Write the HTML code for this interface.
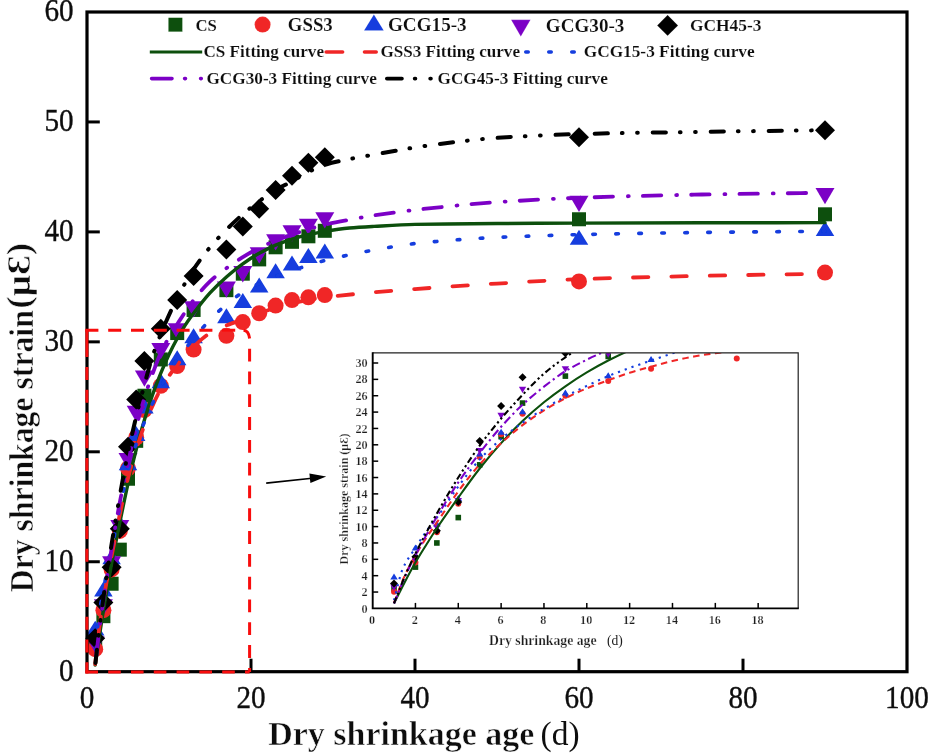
<!DOCTYPE html>
<html><head><meta charset="utf-8"><title>Dry shrinkage strain</title>
<style>
html,body{margin:0;padding:0;background:#fff;}
body{width:928px;height:756px;overflow:hidden;font-family:"Liberation Serif",serif;}
svg{display:block;}
</style></head><body>
<svg width="928" height="756" viewBox="0 0 928 756">
<rect width="928" height="756" fill="#fff"/>
<filter id="soft" x="0" y="0" width="100%" height="100%" filterUnits="userSpaceOnUse" primitiveUnits="userSpaceOnUse"><feGaussianBlur stdDeviation="0.45"/></filter>
<g filter="url(#soft)">
<rect width="928" height="756" fill="#fff"/>
<defs><clipPath id="mc"><rect x="87.0" y="12.0" width="820.0" height="659.7"/></clipPath><clipPath id="ic"><rect x="372.7" y="352.9" width="425.5" height="255.5"/></clipPath></defs>
<g id="main-markers">
<rect x="88.20" y="638.31" width="14.00" height="14.00" fill="#0a500a"/>
<rect x="96.40" y="609.18" width="14.00" height="14.00" fill="#0a500a"/>
<rect x="104.60" y="576.74" width="14.00" height="14.00" fill="#0a500a"/>
<rect x="112.80" y="542.66" width="14.00" height="14.00" fill="#0a500a"/>
<rect x="121.00" y="471.74" width="14.00" height="14.00" fill="#0a500a"/>
<rect x="129.20" y="433.81" width="14.00" height="14.00" fill="#0a500a"/>
<rect x="137.40" y="388.73" width="14.00" height="14.00" fill="#0a500a"/>
<rect x="153.80" y="352.44" width="14.00" height="14.00" fill="#0a500a"/>
<rect x="170.20" y="326.05" width="14.00" height="14.00" fill="#0a500a"/>
<rect x="186.60" y="302.96" width="14.00" height="14.00" fill="#0a500a"/>
<rect x="219.40" y="283.17" width="14.00" height="14.00" fill="#0a500a"/>
<rect x="235.80" y="266.68" width="14.00" height="14.00" fill="#0a500a"/>
<rect x="252.20" y="252.39" width="14.00" height="14.00" fill="#0a500a"/>
<rect x="268.60" y="240.29" width="14.00" height="14.00" fill="#0a500a"/>
<rect x="285.00" y="234.80" width="14.00" height="14.00" fill="#0a500a"/>
<rect x="301.40" y="229.30" width="14.00" height="14.00" fill="#0a500a"/>
<rect x="317.80" y="223.80" width="14.00" height="14.00" fill="#0a500a"/>
<rect x="572.00" y="212.26" width="14.00" height="14.00" fill="#0a500a"/>
<rect x="818.00" y="207.31" width="14.00" height="14.00" fill="#0a500a"/>
<circle cx="95.20" cy="649.16" r="8.00" fill="#f02828"/>
<circle cx="103.40" cy="610.13" r="8.00" fill="#f02828"/>
<circle cx="111.60" cy="569.45" r="8.00" fill="#f02828"/>
<circle cx="119.80" cy="530.96" r="8.00" fill="#f02828"/>
<circle cx="128.00" cy="468.29" r="8.00" fill="#f02828"/>
<circle cx="136.20" cy="437.51" r="8.00" fill="#f02828"/>
<circle cx="144.40" cy="410.02" r="8.00" fill="#f02828"/>
<circle cx="160.80" cy="385.83" r="8.00" fill="#f02828"/>
<circle cx="177.20" cy="366.04" r="8.00" fill="#f02828"/>
<circle cx="193.60" cy="349.55" r="8.00" fill="#f02828"/>
<circle cx="226.40" cy="335.80" r="8.00" fill="#f02828"/>
<circle cx="242.80" cy="322.06" r="8.00" fill="#f02828"/>
<circle cx="259.20" cy="313.26" r="8.00" fill="#f02828"/>
<circle cx="275.60" cy="305.57" r="8.00" fill="#f02828"/>
<circle cx="292.00" cy="300.07" r="8.00" fill="#f02828"/>
<circle cx="308.40" cy="297.32" r="8.00" fill="#f02828"/>
<circle cx="324.80" cy="295.12" r="8.00" fill="#f02828"/>
<circle cx="579.00" cy="281.38" r="8.00" fill="#f02828"/>
<circle cx="825.00" cy="272.58" r="8.00" fill="#f02828"/>
<path d="M95.20,620.63 L104.45,635.61 L85.95,635.61 Z" fill="#123cde"/>
<path d="M103.40,581.60 L112.65,596.58 L94.15,596.58 Z" fill="#123cde"/>
<path d="M111.60,549.16 L120.85,564.15 L102.35,564.15 Z" fill="#123cde"/>
<path d="M119.80,515.08 L129.05,530.06 L110.55,530.06 Z" fill="#123cde"/>
<path d="M128.00,455.15 L137.25,470.14 L118.75,470.14 Z" fill="#123cde"/>
<path d="M136.20,426.02 L145.45,441.00 L126.95,441.00 Z" fill="#123cde"/>
<path d="M144.40,398.53 L153.65,413.51 L135.15,413.51 Z" fill="#123cde"/>
<path d="M160.80,373.24 L170.05,388.23 L151.55,388.23 Z" fill="#123cde"/>
<path d="M177.20,350.15 L186.45,365.14 L167.95,365.14 Z" fill="#123cde"/>
<path d="M193.60,328.16 L202.85,343.15 L184.35,343.15 Z" fill="#123cde"/>
<path d="M226.40,308.37 L235.65,323.36 L217.15,323.36 Z" fill="#123cde"/>
<path d="M242.80,292.98 L252.05,307.96 L233.55,307.96 Z" fill="#123cde"/>
<path d="M259.20,277.58 L268.45,292.57 L249.95,292.57 Z" fill="#123cde"/>
<path d="M275.60,263.29 L284.85,278.28 L266.35,278.28 Z" fill="#123cde"/>
<path d="M292.00,255.59 L301.25,270.58 L282.75,270.58 Z" fill="#123cde"/>
<path d="M308.40,247.90 L317.65,262.88 L299.15,262.88 Z" fill="#123cde"/>
<path d="M324.80,243.50 L334.05,258.48 L315.55,258.48 Z" fill="#123cde"/>
<path d="M579.00,229.76 L588.25,244.74 L569.75,244.74 Z" fill="#123cde"/>
<path d="M825.00,220.96 L834.25,235.95 L815.75,235.95 Z" fill="#123cde"/>
<path d="M95.20,652.92 L104.70,636.58 L85.70,636.58 Z" fill="#7c06c6"/>
<path d="M103.40,615.53 L112.90,599.19 L93.90,599.19 Z" fill="#7c06c6"/>
<path d="M111.60,572.65 L121.10,556.31 L102.10,556.31 Z" fill="#7c06c6"/>
<path d="M119.80,536.37 L129.30,520.03 L110.30,520.03 Z" fill="#7c06c6"/>
<path d="M128.00,469.30 L137.50,452.96 L118.50,452.96 Z" fill="#7c06c6"/>
<path d="M136.20,422.02 L145.70,405.68 L126.70,405.68 Z" fill="#7c06c6"/>
<path d="M144.40,386.84 L153.90,370.50 L134.90,370.50 Z" fill="#7c06c6"/>
<path d="M160.80,359.35 L170.30,343.01 L151.30,343.01 Z" fill="#7c06c6"/>
<path d="M177.20,339.56 L186.70,323.22 L167.70,323.22 Z" fill="#7c06c6"/>
<path d="M193.60,317.57 L203.10,301.23 L184.10,301.23 Z" fill="#7c06c6"/>
<path d="M226.40,297.78 L235.90,281.44 L216.90,281.44 Z" fill="#7c06c6"/>
<path d="M242.80,282.39 L252.30,266.05 L233.30,266.05 Z" fill="#7c06c6"/>
<path d="M259.20,263.69 L268.70,247.35 L249.70,247.35 Z" fill="#7c06c6"/>
<path d="M275.60,250.50 L285.10,234.16 L266.10,234.16 Z" fill="#7c06c6"/>
<path d="M292.00,241.70 L301.50,225.36 L282.50,225.36 Z" fill="#7c06c6"/>
<path d="M308.40,235.11 L317.90,218.77 L298.90,218.77 Z" fill="#7c06c6"/>
<path d="M324.80,228.51 L334.30,212.17 L315.30,212.17 Z" fill="#7c06c6"/>
<path d="M579.00,212.02 L588.50,195.68 L569.50,195.68 Z" fill="#7c06c6"/>
<path d="M825.00,204.32 L834.50,187.98 L815.50,187.98 Z" fill="#7c06c6"/>
<path d="M95.20,628.17 L105.20,638.17 L95.20,648.17 L85.20,638.17 Z" fill="#000000"/>
<path d="M103.40,592.43 L113.40,602.43 L103.40,612.43 L93.40,602.43 Z" fill="#000000"/>
<path d="M111.60,557.25 L121.60,567.25 L111.60,577.25 L101.60,567.25 Z" fill="#000000"/>
<path d="M119.80,518.77 L129.80,528.77 L119.80,538.77 L109.80,528.77 Z" fill="#000000"/>
<path d="M128.00,436.85 L138.00,446.85 L128.00,456.85 L118.00,446.85 Z" fill="#000000"/>
<path d="M136.20,389.57 L146.20,399.57 L136.20,409.57 L126.20,399.57 Z" fill="#000000"/>
<path d="M144.40,351.09 L154.40,361.09 L144.40,371.09 L134.40,361.09 Z" fill="#000000"/>
<path d="M160.80,318.66 L170.80,328.66 L160.80,338.66 L150.80,328.66 Z" fill="#000000"/>
<path d="M177.20,290.07 L187.20,300.07 L177.20,310.07 L167.20,300.07 Z" fill="#000000"/>
<path d="M193.60,265.88 L203.60,275.88 L193.60,285.88 L183.60,275.88 Z" fill="#000000"/>
<path d="M226.40,239.49 L236.40,249.49 L226.40,259.49 L216.40,249.49 Z" fill="#000000"/>
<path d="M242.80,216.40 L252.80,226.40 L242.80,236.40 L232.80,226.40 Z" fill="#000000"/>
<path d="M259.20,198.81 L269.20,208.81 L259.20,218.81 L249.20,208.81 Z" fill="#000000"/>
<path d="M275.60,180.12 L285.60,190.12 L275.60,200.12 L265.60,190.12 Z" fill="#000000"/>
<path d="M292.00,165.83 L302.00,175.83 L292.00,185.83 L282.00,175.83 Z" fill="#000000"/>
<path d="M308.40,152.63 L318.40,162.63 L308.40,172.63 L298.40,162.63 Z" fill="#000000"/>
<path d="M324.80,147.13 L334.80,157.13 L324.80,167.13 L314.80,157.13 Z" fill="#000000"/>
<path d="M579.00,127.34 L589.00,137.34 L579.00,147.34 L569.00,137.34 Z" fill="#000000"/>
<path d="M825.00,120.20 L835.00,130.20 L825.00,140.20 L815.00,130.20 Z" fill="#000000"/>
</g>
<g id="main-curves" fill="none" stroke-linecap="round">
<path d="M95.20,665.10 C96.57,655.57 97.93,645.66 99.30,636.52 C100.67,627.37 102.03,618.44 103.40,610.13 C104.77,601.82 106.13,594.18 107.50,586.49 C108.87,578.80 110.23,571.16 111.60,563.95 C114.33,549.52 117.07,536.08 119.80,522.72 C122.53,509.35 125.27,495.82 128.00,483.69 C130.73,471.56 133.47,460.18 136.20,449.60 C138.93,439.02 141.67,429.02 144.40,419.91 C147.13,410.81 149.87,402.36 152.60,394.63 C155.33,386.89 158.07,379.84 160.80,373.19 C163.53,366.53 166.27,360.23 169.00,354.49 C171.73,348.76 174.47,343.47 177.20,338.55 C179.93,333.63 182.67,328.99 185.40,324.81 C188.13,320.62 190.87,316.89 193.60,313.26 C199.07,306.00 204.53,298.88 210.00,292.92 C215.47,286.96 220.93,281.79 226.40,276.98 C231.87,272.17 237.33,267.67 242.80,263.79 C248.27,259.90 253.73,256.41 259.20,253.34 C264.67,250.27 270.13,247.42 275.60,245.09 C281.07,242.77 286.53,240.74 292.00,239.05 C297.47,237.35 302.93,235.91 308.40,234.65 C313.87,233.39 319.33,232.24 324.80,231.35 C333.00,230.01 341.20,228.78 349.40,228.05 C357.60,227.32 365.80,226.87 374.00,226.40 C387.67,225.62 401.33,224.68 415.00,224.42 C442.33,223.91 469.67,223.74 497.00,223.54 C524.33,223.35 551.67,223.20 579.00,223.10" stroke="#0a500a" stroke-width="3.4"/>
<path d="M579.00,223.10 C620.00,222.95 661.00,222.83 702.00,222.77 C743.00,222.72 784.00,222.70 825.00,222.66" stroke="#0a500a" stroke-width="3.4"/>
<path d="M95.20,664.00 C96.57,651.91 97.93,638.15 99.30,627.72 C100.67,617.29 102.03,608.60 103.40,600.23 C104.77,591.87 106.13,584.45 107.50,577.14 C108.87,569.83 110.23,563.22 111.60,556.25 C114.33,542.33 117.07,527.42 119.80,514.47 C122.53,501.53 125.27,488.85 128.00,478.19 C130.73,467.53 133.47,458.34 136.20,449.60 C138.93,440.87 141.67,432.67 144.40,425.41 C147.13,418.16 149.87,411.62 152.60,405.62 C155.33,399.62 158.07,394.02 160.80,389.13 C163.53,384.24 166.27,379.93 169.00,375.93 C171.73,371.94 174.47,368.41 177.20,364.94 C179.93,361.47 182.67,358.04 185.40,355.04 C188.13,352.05 190.87,349.45 193.60,346.80 C196.33,344.14 199.07,341.36 201.80,339.10 C204.53,336.84 207.27,334.75 210.00,333.05 C212.73,331.36 215.47,329.91 218.20,328.66 C220.93,327.40 223.67,326.41 226.40,325.36 C231.87,323.24 237.33,321.33 242.80,319.31 C248.27,317.29 253.73,315.18 259.20,313.26 C264.67,311.34 270.13,309.39 275.60,307.77 C281.07,306.14 286.53,304.62 292.00,303.37 C297.47,302.11 302.93,301.07 308.40,300.07 C313.87,299.07 319.33,298.04 324.80,297.32 C341.20,295.17 357.60,293.83 374.00,292.37 C387.67,291.15 401.33,290.08 415.00,289.07 C442.33,287.05 469.67,285.21 497.00,283.58 C524.33,281.95 551.67,280.18 579.00,279.18" stroke="#f02828" stroke-width="3.8" stroke-dasharray="15.4 23" stroke-dashoffset="6.4"/>
<path d="M579.00,279.18 C620.00,277.68 661.00,276.76 702.00,275.88 C743.00,275.00 784.00,274.41 825.00,273.68" stroke="#f02828" stroke-width="3.8" stroke-dasharray="15.4 23" stroke-dashoffset="22.8"/>
<path d="M95.20,660.71 C96.29,646.78 97.39,627.87 98.48,618.92 C100.12,605.50 101.76,599.47 103.40,590.34 C104.77,582.72 106.13,575.08 107.50,568.35 C108.87,561.61 110.23,556.19 111.60,549.66 C114.33,536.58 117.07,520.82 119.80,507.87 C122.53,494.93 125.27,482.02 128.00,471.59 C130.73,461.16 133.47,452.25 136.20,444.10 C138.93,435.96 141.67,428.85 144.40,422.11 C147.13,415.38 149.87,409.26 152.60,403.42 C155.33,397.58 158.07,392.03 160.80,386.93 C163.53,381.82 166.27,377.21 169.00,372.64 C171.73,368.06 174.47,363.38 177.20,359.44 C182.67,351.57 188.13,345.13 193.60,338.55 C199.07,331.97 204.53,325.49 210.00,319.86 C215.47,314.23 220.93,308.98 226.40,304.47 C231.87,299.95 237.33,295.77 242.80,292.37 C248.27,288.98 253.73,286.21 259.20,283.58 C264.67,280.95 270.13,278.61 275.60,276.43 C281.07,274.25 286.53,272.20 292.00,270.38 C297.47,268.57 302.93,267.08 308.40,265.43 C313.87,263.79 319.33,261.93 324.80,260.49 C330.27,259.04 335.73,257.83 341.20,256.64 C352.13,254.25 363.07,251.99 374.00,250.04 C387.67,247.61 401.33,245.00 415.00,243.55 C442.33,240.66 469.67,238.66 497.00,237.40 C524.33,236.13 551.67,235.30 579.00,234.65" stroke="#123cde" stroke-width="3.6" stroke-dasharray="2.6 20.4" stroke-dashoffset="12.0"/>
<path d="M579.00,234.65 C620.00,233.67 661.00,232.97 702.00,232.45 C743.00,231.93 784.00,231.64 825.00,231.24" stroke="#123cde" stroke-width="3.6" stroke-dasharray="2.6 20.4" stroke-dashoffset="9.2"/>
<path d="M95.20,665.10 C96.57,653.38 97.93,640.65 99.30,629.92 C100.67,619.18 102.03,609.51 103.40,600.23 C106.13,581.67 108.87,564.81 111.60,548.56 C114.33,532.30 117.07,516.59 119.80,502.38 C122.53,488.17 125.27,475.21 128.00,462.80 C130.73,450.38 133.47,438.35 136.20,427.61 C138.93,416.88 141.67,406.81 144.40,397.92 C147.13,389.04 149.87,381.21 152.60,373.74 C155.33,366.26 158.07,358.75 160.80,352.84 C163.53,346.94 166.27,342.19 169.00,337.45 C171.73,332.72 174.47,328.49 177.20,324.26 C182.67,315.80 188.13,307.10 193.60,300.07 C199.07,293.04 204.53,286.53 210.00,281.38 C215.47,276.22 220.93,272.18 226.40,268.18 C231.87,264.19 237.33,260.56 242.80,257.19 C248.27,253.82 253.73,250.54 259.20,247.84 C264.67,245.14 270.13,242.88 275.60,240.70 C281.07,238.51 286.53,236.57 292.00,234.65 C297.47,232.73 302.93,230.78 308.40,229.15 C313.87,227.52 319.33,226.02 324.80,224.75 C333.00,222.85 341.20,221.36 349.40,219.81 C357.60,218.25 365.80,216.68 374.00,215.41 C387.67,213.29 401.33,211.45 415.00,209.91 C442.33,206.83 469.67,204.08 497.00,202.21 C524.33,200.35 551.67,198.82 579.00,197.82" stroke="#7c06c6" stroke-width="3.8" stroke-dasharray="18.4 14.9 0.9 14.1" stroke-dashoffset="39.9"/>
<path d="M579.00,197.82 C620.00,196.32 661.00,195.28 702.00,194.52 C743.00,193.75 784.00,193.34 825.00,192.76" stroke="#7c06c6" stroke-width="3.8" stroke-dasharray="18.4 14.9 0.9 14.1" stroke-dashoffset="32.7"/>
<path d="M95.20,665.10 C96.57,653.01 97.93,639.92 99.30,628.82 C100.67,617.72 102.03,607.68 103.40,598.03 C106.13,578.73 108.87,561.15 111.60,544.16 C114.33,527.17 117.07,510.93 119.80,495.78 C122.53,480.63 125.27,466.00 128.00,452.90 C130.73,439.80 133.47,427.93 136.20,416.62 C138.93,405.30 141.67,394.78 144.40,384.73 C147.13,374.68 149.87,364.43 152.60,356.14 C155.33,347.86 158.07,340.85 160.80,334.15 C166.27,320.76 171.73,308.53 177.20,297.87 C182.67,287.21 188.13,277.57 193.60,269.28 C199.07,261.00 204.53,253.81 210.00,247.29 C215.47,240.78 220.93,235.17 226.40,229.70 C231.87,224.23 237.33,219.04 242.80,214.31 C248.27,209.57 253.73,205.11 259.20,201.11 C264.67,197.12 270.13,193.38 275.60,190.12 C281.07,186.86 286.53,184.34 292.00,181.32 C297.47,178.30 302.93,174.68 308.40,171.98 C313.87,169.28 319.33,166.52 324.80,164.83 C333.00,162.29 341.20,160.79 349.40,159.11 C357.60,157.43 365.80,156.07 374.00,154.61 C387.67,152.16 401.33,149.53 415.00,147.46 C428.67,145.39 442.33,143.52 456.00,141.96 C469.67,140.40 483.33,138.80 497.00,137.89 C524.33,136.08 551.67,134.77 579.00,134.04" stroke="#000000" stroke-width="4.0" stroke-dasharray="13.2 14 0.7 14.5 0.7 14.9" stroke-dashoffset="55.8"/>
<path d="M579.00,134.04 C620.00,132.95 661.00,132.47 702.00,131.85 C743.00,131.22 784.00,130.75 825.00,130.20" stroke="#000000" stroke-width="4.0" stroke-dasharray="13.2 14 0.7 14.5 0.7 14.9" stroke-dashoffset="42.3"/>
</g>
<rect x="87.00" y="12.00" width="820.00" height="659.70" fill="none" stroke="#000" stroke-width="3.2"/>
<g stroke="#000" stroke-width="3">
<line x1="251.00" y1="671.70" x2="251.00" y2="658.70"/>
<line x1="415.00" y1="671.70" x2="415.00" y2="658.70"/>
<line x1="579.00" y1="671.70" x2="579.00" y2="658.70"/>
<line x1="743.00" y1="671.70" x2="743.00" y2="658.70"/>
<line x1="87.00" y1="561.75" x2="99.80" y2="561.75"/>
<line x1="87.00" y1="451.80" x2="99.80" y2="451.80"/>
<line x1="87.00" y1="341.85" x2="99.80" y2="341.85"/>
<line x1="87.00" y1="231.90" x2="99.80" y2="231.90"/>
<line x1="87.00" y1="121.95" x2="99.80" y2="121.95"/>
</g>
<g fill="none" stroke="#f80c0c" stroke-width="3">
<path d="M85.4,672 L249.6,672" stroke-dasharray="12.6 10.2"/>
<path d="M249.6,348.7 L249.6,672" stroke-dasharray="12.8 10"/>
<path d="M243.5,330.3 Q248.6,330.6 249.6,338.5"/>
<path d="M85.4,330.3 L244,330.3" stroke-dasharray="13 9.8"/>
<path d="M86.9,329 L86.9,357"/>
<path d="M86.9,367.1 L86.9,673.4" stroke-dasharray="13 9.7"/>
</g>
<g font-family="'Liberation Serif', serif" font-size="30.6px" fill="#0d0d0d" stroke="#0d0d0d" stroke-width="0.35">
<text x="79.70" y="708.2" textLength="14.6" lengthAdjust="spacingAndGlyphs">0</text>
<text x="236.40" y="708.2" textLength="29.2" lengthAdjust="spacingAndGlyphs">20</text>
<text x="400.40" y="708.2" textLength="29.2" lengthAdjust="spacingAndGlyphs">40</text>
<text x="564.40" y="708.2" textLength="29.2" lengthAdjust="spacingAndGlyphs">60</text>
<text x="728.40" y="708.2" textLength="29.2" lengthAdjust="spacingAndGlyphs">80</text>
<text x="885.10" y="708.2" textLength="43.8" lengthAdjust="spacingAndGlyphs">100</text>
<text x="59.00" y="680.60" textLength="14.6" lengthAdjust="spacingAndGlyphs">0</text>
<text x="44.40" y="570.65" textLength="29.2" lengthAdjust="spacingAndGlyphs">10</text>
<text x="44.40" y="460.70" textLength="29.2" lengthAdjust="spacingAndGlyphs">20</text>
<text x="44.40" y="350.75" textLength="29.2" lengthAdjust="spacingAndGlyphs">30</text>
<text x="44.40" y="240.80" textLength="29.2" lengthAdjust="spacingAndGlyphs">40</text>
<text x="44.40" y="130.85" textLength="29.2" lengthAdjust="spacingAndGlyphs">50</text>
<text x="44.40" y="20.90" textLength="29.2" lengthAdjust="spacingAndGlyphs">60</text>
</g>
<text x="268.2" y="745.4" font-family="'Liberation Serif', serif" fill="#111" font-size="33.7px" font-weight="bold" stroke="#fff" stroke-width="0.55" textLength="266.2" lengthAdjust="spacingAndGlyphs">Dry shrinkage age</text>
<text x="540.6" y="745.4" font-family="'Liberation Serif', serif" fill="#111" font-size="33.5px">(d)</text>
<text transform="translate(32.5,592.2) rotate(-90)" font-family="'Liberation Serif', serif" fill="#111" font-size="33.7px" font-weight="bold" stroke="#fff" stroke-width="0.55" textLength="282" lengthAdjust="spacingAndGlyphs">Dry shrinkage strain</text>
<text transform="translate(30.4,308.8) rotate(-90)" font-family="'Liberation Serif', serif" fill="#111" font-size="34.5px" font-weight="bold" stroke="#fff" stroke-width="0.55" textLength="66" lengthAdjust="spacingAndGlyphs">(μƐ)</text>
<g id="legend" font-family="'Liberation Serif', serif" font-weight="bold" font-size="17px" fill="#111" stroke="#fff" stroke-width="0.12">
<rect x="168.40" y="17.70" width="14.00" height="14.00" fill="#0a500a"/>
<text x="195.5" y="30.6" textLength="21.4" lengthAdjust="spacingAndGlyphs" font-size="17px">CS</text>
<circle cx="262.60" cy="24.60" r="8.00" fill="#f02828"/>
<text x="287.8" y="31.4" textLength="45" lengthAdjust="spacingAndGlyphs" font-size="18.6px">GSS3</text>
<path d="M373.90,14.56 L383.70,30.43 L364.10,30.43 Z" fill="#123cde"/>
<text x="387.9" y="30.8" textLength="78.8" lengthAdjust="spacingAndGlyphs" font-size="18.6px">GCG15-3</text>
<path d="M520.80,36.41 L530.50,19.73 L511.10,19.73 Z" fill="#7c06c6"/>
<text x="545.8" y="31.6" textLength="78.6" lengthAdjust="spacingAndGlyphs" font-size="18.5px">GCG30-3</text>
<path d="M667.60,15.00 L678.00,25.40 L667.60,35.80 L657.20,25.40 Z" fill="#000000"/>
<text x="689.9" y="30.9" textLength="71.6" lengthAdjust="spacingAndGlyphs" font-size="17px">GCH45-3</text>
<line x1="149.8" y1="52" x2="202.2" y2="52" stroke="#0a500a" stroke-width="3.2"/>
<text x="203.4" y="57" textLength="120.6" lengthAdjust="spacingAndGlyphs">CS Fitting curve</text>
<line x1="326.2" y1="52" x2="376.2" y2="52" stroke="#f02828" stroke-width="3.6" stroke-linecap="round" stroke-dasharray="16.4 21.9"/>
<text x="380.4" y="57" textLength="139.6" lengthAdjust="spacingAndGlyphs">GSS3 Fitting curve</text>
<line x1="525.7" y1="52" x2="574.3" y2="52" stroke="#123cde" stroke-width="3.4" stroke-linecap="round" stroke-dasharray="2.6 20.4"/>
<text x="583.7" y="57" textLength="171" lengthAdjust="spacingAndGlyphs">GCG15-3 Fitting curve</text>
<line x1="151.6" y1="78.6" x2="201.3" y2="78.6" stroke="#7c06c6" stroke-width="3.6" stroke-linecap="round" stroke-dasharray="20.4 12.6 0.9 15.1"/>
<text x="206.4" y="84" textLength="170.4" lengthAdjust="spacingAndGlyphs">GCG30-3 Fitting curve</text>
<line x1="386.9" y1="78.6" x2="435" y2="78.6" stroke="#000000" stroke-width="3.8" stroke-linecap="round" stroke-dasharray="15 12.8 0.7 14.8 0.7 14.8"/>
<text x="437.5" y="84" textLength="170.4" lengthAdjust="spacingAndGlyphs">GCG45-3 Fitting curve</text>
</g>
<line x1="266.2" y1="483.1" x2="312" y2="478.2" stroke="#000" stroke-width="1.6"/>
<path d="M326.2,476.6 L309.4,473.6 L310.4,483.0 Z" fill="#000"/>
<g id="inset">
<rect x="372.70" y="352.90" width="425.50" height="255.50" fill="#fff"/>
<g clip-path="url(#ic)">
<rect x="391.22" y="585.97" width="5.60" height="5.60" fill="#0a500a"/>
<rect x="412.64" y="564.29" width="5.60" height="5.60" fill="#0a500a"/>
<rect x="434.06" y="540.16" width="5.60" height="5.60" fill="#0a500a"/>
<rect x="455.48" y="514.80" width="5.60" height="5.60" fill="#0a500a"/>
<rect x="476.90" y="462.04" width="5.60" height="5.60" fill="#0a500a"/>
<rect x="498.32" y="433.82" width="5.60" height="5.60" fill="#0a500a"/>
<rect x="519.74" y="400.28" width="5.60" height="5.60" fill="#0a500a"/>
<rect x="562.58" y="373.29" width="5.60" height="5.60" fill="#0a500a"/>
<rect x="605.42" y="353.66" width="5.60" height="5.60" fill="#0a500a"/>
<circle cx="394.02" cy="591.63" r="3.00" fill="#f02828"/>
<circle cx="415.44" cy="562.59" r="3.00" fill="#f02828"/>
<circle cx="436.86" cy="532.33" r="3.00" fill="#f02828"/>
<circle cx="458.28" cy="503.70" r="3.00" fill="#f02828"/>
<circle cx="479.70" cy="457.07" r="3.00" fill="#f02828"/>
<circle cx="501.12" cy="434.17" r="3.00" fill="#f02828"/>
<circle cx="522.54" cy="413.72" r="3.00" fill="#f02828"/>
<circle cx="565.38" cy="395.72" r="3.00" fill="#f02828"/>
<circle cx="608.22" cy="381.00" r="3.00" fill="#f02828"/>
<circle cx="651.06" cy="368.73" r="3.00" fill="#f02828"/>
<circle cx="736.74" cy="358.50" r="3.00" fill="#f02828"/>
<path d="M394.02,573.60 L397.72,579.59 L390.32,579.59 Z" fill="#123cde"/>
<path d="M415.44,544.56 L419.14,550.55 L411.74,550.55 Z" fill="#123cde"/>
<path d="M436.86,520.43 L440.56,526.42 L433.16,526.42 Z" fill="#123cde"/>
<path d="M458.28,495.07 L461.98,501.07 L454.58,501.07 Z" fill="#123cde"/>
<path d="M479.70,450.49 L483.40,456.48 L476.00,456.48 Z" fill="#123cde"/>
<path d="M501.12,428.81 L504.82,434.81 L497.42,434.81 Z" fill="#123cde"/>
<path d="M522.54,408.36 L526.24,414.36 L518.84,414.36 Z" fill="#123cde"/>
<path d="M565.38,389.55 L569.08,395.54 L561.68,395.54 Z" fill="#123cde"/>
<path d="M608.22,372.37 L611.92,378.37 L604.52,378.37 Z" fill="#123cde"/>
<path d="M651.06,356.01 L654.76,362.01 L647.36,362.01 Z" fill="#123cde"/>
<path d="M394.02,590.95 L397.72,584.59 L390.32,584.59 Z" fill="#7c06c6"/>
<path d="M415.44,563.14 L419.14,556.77 L411.74,556.77 Z" fill="#7c06c6"/>
<path d="M436.86,531.24 L440.56,524.87 L433.16,524.87 Z" fill="#7c06c6"/>
<path d="M458.28,504.24 L461.98,497.88 L454.58,497.88 Z" fill="#7c06c6"/>
<path d="M479.70,454.34 L483.40,447.98 L476.00,447.98 Z" fill="#7c06c6"/>
<path d="M501.12,419.17 L504.82,412.81 L497.42,412.81 Z" fill="#7c06c6"/>
<path d="M522.54,392.99 L526.24,386.63 L518.84,386.63 Z" fill="#7c06c6"/>
<path d="M565.38,372.54 L569.08,366.18 L561.68,366.18 Z" fill="#7c06c6"/>
<path d="M608.22,357.82 L611.92,351.46 L604.52,351.46 Z" fill="#7c06c6"/>
<path d="M394.02,579.45 L398.02,583.45 L394.02,587.45 L390.02,583.45 Z" fill="#000000"/>
<path d="M415.44,552.87 L419.44,556.87 L415.44,560.87 L411.44,556.87 Z" fill="#000000"/>
<path d="M436.86,526.69 L440.86,530.69 L436.86,534.69 L432.86,530.69 Z" fill="#000000"/>
<path d="M458.28,498.06 L462.28,502.06 L458.28,506.06 L454.28,502.06 Z" fill="#000000"/>
<path d="M479.70,437.12 L483.70,441.12 L479.70,445.12 L475.70,441.12 Z" fill="#000000"/>
<path d="M501.12,401.94 L505.12,405.94 L501.12,409.94 L497.12,405.94 Z" fill="#000000"/>
<path d="M522.54,373.31 L526.54,377.31 L522.54,381.31 L518.54,377.31 Z" fill="#000000"/>
<path d="M565.38,349.18 L569.38,353.18 L565.38,357.18 L561.38,353.18 Z" fill="#000000"/>
<g fill="none">
<path d="M394.02,603.49 C397.59,596.40 401.16,589.03 404.73,582.22 C408.30,575.42 411.87,568.78 415.44,562.59 C419.01,556.41 422.58,550.73 426.15,545.00 C429.72,539.28 433.29,533.60 436.86,528.24 C444.00,517.50 451.14,507.51 458.28,497.56 C465.42,487.62 472.56,477.55 479.70,468.52 C486.84,459.50 493.98,451.03 501.12,443.16 C508.26,435.29 515.40,427.85 522.54,421.08 C529.68,414.30 536.82,408.02 543.96,402.26 C551.10,396.51 558.24,391.27 565.38,386.31 C572.52,381.36 579.66,376.67 586.80,372.41 C593.94,368.14 601.08,364.21 608.22,360.55 C615.36,356.89 622.50,353.43 629.64,350.32 C636.78,347.21 643.92,344.43 651.06,341.73 C665.34,336.33 679.62,331.03 693.90,326.60 C708.18,322.17 722.46,318.32 736.74,314.74 C751.02,311.16 765.30,308.19 779.58,304.92" stroke="#0a500a" stroke-width="2.1"/>
<path d="M394.02,602.67 C397.59,593.68 401.16,583.44 404.73,575.68 C408.30,567.92 411.87,561.45 415.44,555.23 C419.01,549.01 422.58,543.49 426.15,538.05 C429.72,532.61 433.29,527.69 436.86,522.51 C444.00,512.15 451.14,501.06 458.28,491.43 C465.42,481.79 472.56,472.36 479.70,464.43 C486.84,456.50 493.98,449.66 501.12,443.16 C508.26,436.67 515.40,430.57 522.54,425.17 C529.68,419.77 536.82,414.91 543.96,410.44 C551.10,405.98 558.24,401.81 565.38,398.17 C572.52,394.54 579.66,391.33 586.80,388.36 C593.94,385.38 601.08,382.76 608.22,380.18 C615.36,377.59 622.50,375.05 629.64,372.82 C636.78,370.59 643.92,368.66 651.06,366.68 C658.20,364.71 665.34,362.63 672.48,360.95 C679.62,359.28 686.76,357.72 693.90,356.46 C701.04,355.19 708.18,354.12 715.32,353.18 C722.46,352.25 729.60,351.52 736.74,350.73 C751.02,349.16 765.30,347.73 779.58,346.23" stroke="#f02828" stroke-width="2.1" stroke-dasharray="6.5 4.5"/>
<path d="M394.02,600.22 C396.88,589.86 399.73,575.79 402.59,569.14 C406.87,559.15 411.16,554.67 415.44,547.87 C419.01,542.20 422.58,536.52 426.15,531.51 C429.72,526.50 433.29,522.46 436.86,517.60 C444.00,507.88 451.14,496.15 458.28,486.52 C465.42,476.89 472.56,467.28 479.70,459.52 C486.84,451.77 493.98,445.13 501.12,439.07 C508.26,433.01 515.40,427.73 522.54,422.71 C529.68,417.70 536.82,413.15 543.96,408.81 C551.10,404.46 558.24,400.34 565.38,396.54 C572.52,392.74 579.66,389.31 586.80,385.90 C593.94,382.50 601.08,379.02 608.22,376.09 C622.50,370.23 636.78,365.44 651.06,360.55 C665.34,355.65 679.62,350.83 693.90,346.64 C708.18,342.45 722.46,338.55 736.74,335.19 C751.02,331.83 765.30,329.19 779.58,326.19" stroke="#123cde" stroke-width="2.1" stroke-dasharray="2.2 5"/>
<path d="M394.02,603.49 C397.59,594.77 401.16,585.30 404.73,577.32 C408.30,569.33 411.87,562.13 415.44,555.23 C422.58,541.42 429.72,528.88 436.86,516.78 C444.00,504.69 451.14,493.00 458.28,482.43 C465.42,471.86 472.56,462.22 479.70,452.98 C486.84,443.74 493.98,434.79 501.12,426.80 C508.26,418.82 515.40,411.33 522.54,404.72 C529.68,398.11 536.82,392.28 543.96,386.72 C551.10,381.16 558.24,375.58 565.38,371.18 C572.52,366.78 579.66,363.25 586.80,359.73 C593.94,356.20 601.08,353.06 608.22,349.91 C622.50,343.62 636.78,337.15 651.06,331.92 C665.34,326.69 679.62,321.85 693.90,318.01 C708.18,314.17 722.46,311.17 736.74,308.19 C751.02,305.22 765.30,302.74 779.58,300.01" stroke="#7c06c6" stroke-width="2.1" stroke-dasharray="8.5 3.5 2.2 3.5"/>
<path d="M394.02,603.49 C397.59,594.49 401.16,584.76 404.73,576.50 C408.30,568.24 411.87,560.77 415.44,553.59 C422.58,539.24 429.72,526.15 436.86,513.51 C444.00,500.87 451.14,488.79 458.28,477.52 C465.42,466.25 472.56,455.37 479.70,445.62 C486.84,435.87 493.98,427.04 501.12,418.62 C508.26,410.21 515.40,402.38 522.54,394.90 C529.68,387.43 536.82,379.80 543.96,373.63 C551.10,367.47 558.24,362.26 565.38,357.27 C579.66,347.31 593.94,338.21 608.22,330.28 C622.50,322.35 636.78,315.18 651.06,309.01 C665.34,302.85 679.62,297.50 693.90,292.65 C708.18,287.80 722.46,283.64 736.74,279.56 C751.02,275.49 765.30,271.93 779.58,268.11" stroke="#000000" stroke-width="2.1" stroke-dasharray="6.5 3 2.2 3 2.2 3"/>
</g></g>
<path d="M372.70,352.90 L798.20,352.90 L798.20,608.40" fill="none" stroke="#222" stroke-width="1.2"/>
<path d="M372.70,352.30 L372.70,608.40 L798.80,608.40" fill="none" stroke="#000" stroke-width="1.9"/>
<g stroke="#000" stroke-width="1.5">
<line x1="415.44" y1="608.40" x2="415.44" y2="602.90"/>
<line x1="458.28" y1="608.40" x2="458.28" y2="602.90"/>
<line x1="501.12" y1="608.40" x2="501.12" y2="602.90"/>
<line x1="543.96" y1="608.40" x2="543.96" y2="602.90"/>
<line x1="586.80" y1="608.40" x2="586.80" y2="602.90"/>
<line x1="629.64" y1="608.40" x2="629.64" y2="602.90"/>
<line x1="672.48" y1="608.40" x2="672.48" y2="602.90"/>
<line x1="715.32" y1="608.40" x2="715.32" y2="602.90"/>
<line x1="758.16" y1="608.40" x2="758.16" y2="602.90"/>
<line x1="372.70" y1="592.04" x2="378.20" y2="592.04"/>
<line x1="372.70" y1="575.68" x2="378.20" y2="575.68"/>
<line x1="372.70" y1="559.32" x2="378.20" y2="559.32"/>
<line x1="372.70" y1="542.96" x2="378.20" y2="542.96"/>
<line x1="372.70" y1="526.60" x2="378.20" y2="526.60"/>
<line x1="372.70" y1="510.24" x2="378.20" y2="510.24"/>
<line x1="372.70" y1="493.88" x2="378.20" y2="493.88"/>
<line x1="372.70" y1="477.52" x2="378.20" y2="477.52"/>
<line x1="372.70" y1="461.16" x2="378.20" y2="461.16"/>
<line x1="372.70" y1="444.80" x2="378.20" y2="444.80"/>
<line x1="372.70" y1="428.44" x2="378.20" y2="428.44"/>
<line x1="372.70" y1="412.08" x2="378.20" y2="412.08"/>
<line x1="372.70" y1="395.72" x2="378.20" y2="395.72"/>
<line x1="372.70" y1="379.36" x2="378.20" y2="379.36"/>
<line x1="372.70" y1="363.00" x2="378.20" y2="363.00"/>
</g>
<g font-family="'Liberation Serif', serif" font-size="12.2px" font-weight="bold" fill="#1a1a1a" stroke="#fff" stroke-width="0.25">
<text x="372.00" y="624.3" text-anchor="middle">0</text>
<text x="414.84" y="624.3" text-anchor="middle">2</text>
<text x="457.68" y="624.3" text-anchor="middle">4</text>
<text x="500.52" y="624.3" text-anchor="middle">6</text>
<text x="543.36" y="624.3" text-anchor="middle">8</text>
<text x="586.20" y="624.3" text-anchor="middle">10</text>
<text x="629.04" y="624.3" text-anchor="middle">12</text>
<text x="671.88" y="624.3" text-anchor="middle">14</text>
<text x="714.72" y="624.3" text-anchor="middle">16</text>
<text x="757.56" y="624.3" text-anchor="middle">18</text>
<text x="367.6" y="612.50" text-anchor="end">0</text>
<text x="367.6" y="596.14" text-anchor="end">2</text>
<text x="367.6" y="579.78" text-anchor="end">4</text>
<text x="367.6" y="563.42" text-anchor="end">6</text>
<text x="367.6" y="547.06" text-anchor="end">8</text>
<text x="367.6" y="530.70" text-anchor="end">10</text>
<text x="367.6" y="514.34" text-anchor="end">12</text>
<text x="367.6" y="497.98" text-anchor="end">14</text>
<text x="367.6" y="481.62" text-anchor="end">16</text>
<text x="367.6" y="465.26" text-anchor="end">18</text>
<text x="367.6" y="448.90" text-anchor="end">20</text>
<text x="367.6" y="432.54" text-anchor="end">22</text>
<text x="367.6" y="416.18" text-anchor="end">24</text>
<text x="367.6" y="399.82" text-anchor="end">26</text>
<text x="367.6" y="383.46" text-anchor="end">28</text>
<text x="367.6" y="367.10" text-anchor="end">30</text>
<text x="489" y="645.4" font-size="13.6px" textLength="107.5" lengthAdjust="spacingAndGlyphs">Dry shrinkage age</text>
<text x="607" y="645.4" font-weight="normal" font-size="13.6px" stroke="none">(d)</text>
<text transform="translate(348,564.5) rotate(-90)" font-size="12px" textLength="131" lengthAdjust="spacingAndGlyphs">Dry shrinkage strain (μƐ)</text>
</g>
</g>
</g>
</svg>
</body></html>
